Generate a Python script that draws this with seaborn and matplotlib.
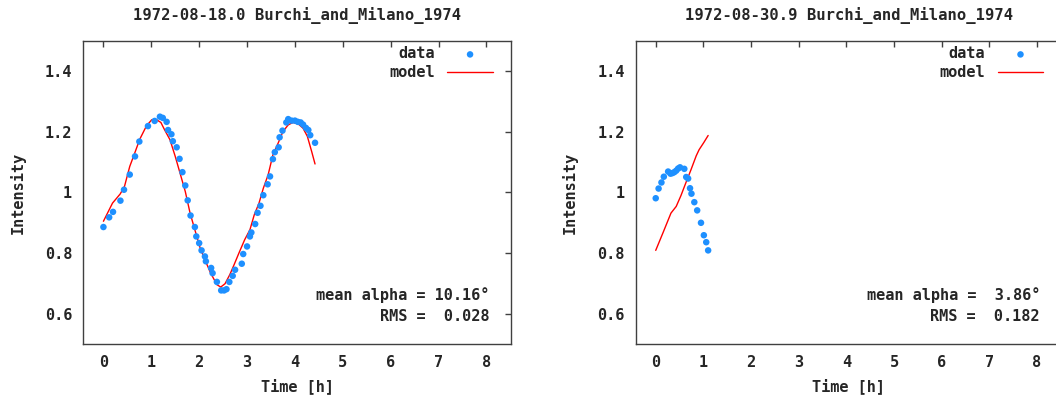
import numpy as np
import pandas as pd
import seaborn as sns
import matplotlib.pyplot as plt

# --- panel 1: 1972-08-18.0 ---
t1_data = [0.0, 0.12, 0.20, 0.355, 0.43, 0.55, 0.66, 0.75, 0.93, 1.07, 1.18, 1.24, 1.32, 1.35,
           1.42, 1.45, 1.53, 1.59, 1.65, 1.71, 1.76, 1.82, 1.91, 1.94, 2.0, 2.05, 2.12, 2.14,
           2.25, 2.28, 2.37, 2.46, 2.52, 2.57, 2.63, 2.70, 2.75, 2.89, 2.92, 3.0, 3.06, 3.09,
           3.17, 3.22, 3.28, 3.34, 3.43, 3.48, 3.54, 3.58, 3.66, 3.68, 3.74, 3.82, 3.86, 3.93,
           4.0, 4.06, 4.12, 4.17, 4.23, 4.28, 4.32, 4.42]
i1_data = [0.886, 0.918, 0.936, 0.973, 1.009, 1.059, 1.119, 1.168, 1.219, 1.236, 1.25, 1.246,
           1.233, 1.206, 1.192, 1.169, 1.149, 1.111, 1.067, 1.023, 0.974, 0.924, 0.886, 0.855,
           0.833, 0.809, 0.789, 0.773, 0.751, 0.734, 0.705, 0.677, 0.677, 0.681, 0.705, 0.725,
           0.745, 0.765, 0.797, 0.822, 0.855, 0.868, 0.896, 0.933, 0.956, 0.991, 1.027, 1.053,
           1.11, 1.133, 1.149, 1.182, 1.204, 1.231, 1.242, 1.237, 1.237, 1.233, 1.231, 1.224,
           1.213, 1.206, 1.189, 1.164]
t1_model = [0.0, 0.19, 0.35, 0.44, 0.55, 0.64, 0.76, 0.90, 1.01, 1.11, 1.20, 1.28, 1.39, 1.50,
            1.60, 1.71, 1.81, 1.91, 2.02, 2.12, 2.24, 2.37, 2.45, 2.54, 2.64, 2.73, 2.83, 2.95,
            3.06, 3.15, 3.25, 3.34, 3.44, 3.54, 3.65, 3.75, 3.86, 3.96, 4.07, 4.17, 4.26, 4.35,
            4.42]
i1_model = [0.905, 0.965, 0.995, 1.02, 1.086, 1.124, 1.176, 1.22, 1.24, 1.24, 1.231, 1.206,
            1.174, 1.119, 1.064, 1.003, 0.932, 0.877, 0.817, 0.778, 0.734, 0.696, 0.688, 0.699,
            0.729, 0.762, 0.8, 0.844, 0.877, 0.926, 0.965, 1.014, 1.058, 1.124, 1.163, 1.201,
            1.223, 1.231, 1.226, 1.212, 1.185, 1.135, 1.094]

# --- panel 2: 1972-08-30.9 ---
t2_data = [0.0, 0.06, 0.12, 0.17, 0.26, 0.31, 0.35, 0.39, 0.43, 0.47, 0.51, 0.60, 0.64, 0.68,
           0.72, 0.75, 0.81, 0.87, 0.95, 1.01, 1.06, 1.10]
i2_data = [0.981, 1.013, 1.033, 1.052, 1.069, 1.062, 1.064, 1.067, 1.072, 1.079, 1.083, 1.078,
           1.051, 1.046, 1.014, 0.996, 0.968, 0.941, 0.9, 0.859, 0.836, 0.809]
t2_model = [0.0, 0.16, 0.32, 0.43, 0.53, 0.63, 0.74, 0.85, 0.91, 1.01, 1.10]
i2_model = [0.809, 0.87, 0.932, 0.954, 0.99, 1.031, 1.075, 1.121, 1.141, 1.165, 1.188]

titles = ["1972-08-18.0 Burchi_and_Milano_1974", "1972-08-30.9 Burchi_and_Milano_1974"]
alphas = ["10.16", " 3.86"]
rms = ["0.028", "0.182"]

sns.set_style("white")
plt.rcParams["font.family"] = ["DejaVu Sans Mono", "DejaVu Sans"]
plt.rcParams["font.weight"] = "bold"
plt.rcParams["font.size"] = 11

fig = plt.figure(figsize=(10.56, 4.01), dpi=100)
ax1 = fig.add_axes([0.0789, 0.142, 0.4053, 0.756])
ax2 = fig.add_axes([0.602, 0.142, 0.4034, 0.756])

panels = [(ax1, t1_data, i1_data, t1_model, i1_model),
          (ax2, t2_data, i2_data, t2_model, i2_model)]

for k, (ax, td, idd, tm, im) in enumerate(panels):
    d = pd.DataFrame({"t": td, "i": idd})
    m = pd.DataFrame({"t": tm, "i": im})
    sns.scatterplot(data=d, x="t", y="i", ax=ax, color="#1e90ff", s=22, marker="o",
                    edgecolor="none", label="data", zorder=3)
    sns.lineplot(data=m, x="t", y="i", ax=ax, color="red", lw=1, label="model", zorder=2)
    ax.set_xlim(-0.42, 8.52)
    ax.set_ylim(0.5, 1.5)
    ax.set_xticks(range(0, 9))
    ax.set_yticks([0.6, 0.8, 1.0, 1.2, 1.4])
    ax.set_yticklabels(["0.6", "0.8", "1", "1.2", "1.4"])
    ax.tick_params(direction="in", length=4, width=1, color="#404040",
                   top=True, right=True, labelsize=11, pad=8)
    for lab in ax.get_xticklabels() + ax.get_yticklabels():
        lab.set_fontweight("bold")
    for sp in ax.spines.values():
        sp.set_color("#404040")
        sp.set_linewidth(1)
    ax.set_xlabel("Time [h]", fontweight="bold", labelpad=6)
    ax.set_ylabel("Intensity", fontweight="bold", labelpad=14)
    ax.set_title(titles[k], fontweight="bold", fontsize=11.2, pad=15)
    ax.legend(loc="upper right", bbox_to_anchor=(0.975, 1.007), frameon=False,
              markerfirst=False, handlelength=3, borderaxespad=0.1, labelspacing=0.25,
              prop={"weight": "bold", "size": 11})
    ax.text(0.949, 0.162, "mean alpha = %s°" % alphas[k], transform=ax.transAxes,
            ha="right", va="center", fontweight="bold")
    ax.text(0.949, 0.092, "RMS =  %s" % rms[k], transform=ax.transAxes,
            ha="right", va="center", fontweight="bold")

fig.savefig("out.png", dpi=100)
